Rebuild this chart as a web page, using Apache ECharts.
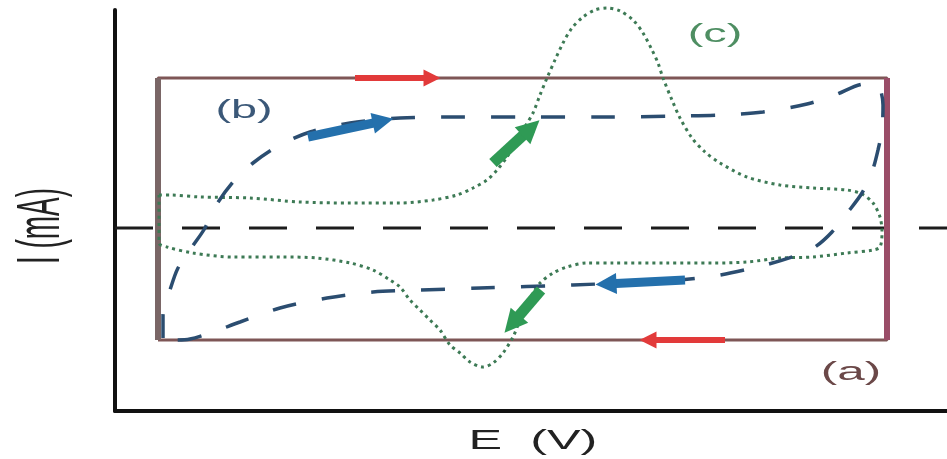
<!DOCTYPE html>
<html>
<head>
<meta charset="utf-8">
<script src="https://cdn.jsdelivr.net/npm/echarts@6/dist/echarts.min.js"></script>
<style>
html, body { margin: 0; padding: 0; background: #ffffff; }
#chart { width: 947px; height: 459px; }
</style>
</head>
<body>
<div id="chart"></div>
<script>
// Potential E (V) and current I (mA) of the three schematic voltammograms.

// (a) ideal capacitor: rectangular response
const rectE = [0.1075, 1.93];
const rectI = [-1.12, 1.50];

// (b) pseudo-capacitive / real capacitor loop
const capE = [0.12, 0.12, 0.1375, 0.1575, 0.1925, 0.225, 0.25, 0.295, 0.345, 0.4125, 0.4875, 0.5875, 0.7125, 0.8375, 1.0125, 1.2125, 1.4125, 1.5125, 1.62, 1.73, 1.80, 1.875, 1.9075, 1.92, 1.9175, 1.9075, 1.8925, 1.8675, 1.8325, 1.7925, 1.75, 1.70, 1.625, 1.5125, 1.4125, 1.2625, 1.145, 0.9125, 0.7625, 0.645, 0.53, 0.4125, 0.3125, 0.2375, 0.1875, 0.15, 0.12];
const capI = [-1.10, -0.87, -0.62, -0.40, -0.19, 0, 0.21, 0.46, 0.65, 0.83, 0.96, 1.05, 1.10, 1.11, 1.11, 1.11, 1.12, 1.13, 1.16, 1.24, 1.33, 1.44, 1.42, 1.23, 0.98, 0.78, 0.56, 0.35, 0.16, -0.04, -0.19, -0.28, -0.37, -0.47, -0.52, -0.55, -0.57, -0.60, -0.62, -0.64, -0.70, -0.80, -0.94, -1.05, -1.11, -1.12, -1.10];

// (c) faradaic (battery-type) loop with redox peaks
const farE = [0.11, 0.1375, 0.2125, 0.3375, 0.4625, 0.5875, 0.7125, 0.795, 0.855, 0.895, 0.93, 0.955, 0.98, 1.005, 1.0275, 1.045, 1.0625, 1.08, 1.10, 1.12, 1.1425, 1.17, 1.20, 1.23, 1.2625, 1.295, 1.32, 1.3425, 1.3575, 1.37, 1.3925, 1.4125, 1.4425, 1.475, 1.5125, 1.58, 1.6625, 1.745, 1.83, 1.8675, 1.895, 1.9125, 1.9175, 1.9125, 1.895, 1.83, 1.745, 1.6625, 1.58, 1.495, 1.38, 1.245, 1.18, 1.13, 1.095, 1.0625, 1.045, 1.03, 1.0125, 0.995, 0.97, 0.945, 0.92, 0.8875, 0.8625, 0.8375, 0.8125, 0.7875, 0.7625, 0.7375, 0.7125, 0.6875, 0.645, 0.5875, 0.505, 0.42, 0.295, 0.195, 0.13, 0.11, 0.11];
const farI = [0.33, 0.33, 0.31, 0.30, 0.26, 0.25, 0.25, 0.28, 0.33, 0.40, 0.48, 0.58, 0.71, 0.88, 1.03, 1.15, 1.33, 1.50, 1.68, 1.85, 2.00, 2.11, 2.18, 2.20, 2.17, 2.08, 1.95, 1.78, 1.65, 1.50, 1.28, 1.10, 0.90, 0.76, 0.65, 0.51, 0.43, 0.40, 0.38, 0.34, 0.25, 0.11, -0.04, -0.19, -0.22, -0.25, -0.29, -0.30, -0.34, -0.35, -0.35, -0.35, -0.35, -0.39, -0.45, -0.55, -0.65, -0.77, -0.92, -1.09, -1.25, -1.35, -1.39, -1.34, -1.25, -1.17, -1.02, -0.92, -0.82, -0.72, -0.59, -0.52, -0.42, -0.35, -0.30, -0.29, -0.29, -0.25, -0.19, -0.15, 0.33];

// zero-current reference
const zeroE = [0, 2.08];

// scan-direction arrows: [E, I] of tail and head
const rectArrowFrom = [[0.60, 1.50], [1.525, -1.12]];
const rectArrowTo = [[0.7925, 1.50], [1.3325, -1.12]];
const capArrowFrom = [[0.4825, 0.91], [1.425, -0.52]];
const capArrowTo = [[0.67, 1.07], [1.2275, -0.56]];
const farArrowFrom = [[0.945, 0.65], [1.065, -0.62]];
const farArrowTo = [[1.04, 1.00], [0.9925, -0.96]];

// axis extents
const eRange = [0, 2.08];
const iRange = [-1.83, 2.18];

const zip = (xs, ys) => xs.map((x, k) => [x, ys[k]]);

const rectPath = [
  [rectE[0], rectI[0]], [rectE[0], rectI[1]], [rectE[1], rectI[1]],
  [rectE[1], rectI[0]], [rectE[0], rectI[0]]
];

function arrowSeries(from, to, color, width, head) {
  return {
    type: 'line', data: [], silent: true, animation: false,
    markLine: {
      silent: true, animation: false,
      symbol: ['none', 'triangle'], symbolSize: head,
      label: { show: false },
      emphasis: { disabled: true },
      lineStyle: { color: color, width: width, type: 'solid', opacity: 1 },
      data: from.map((p, k) => [{ coord: p }, { coord: to[k] }])
    }
  };
}

const chart = echarts.init(document.getElementById('chart'), null, { renderer: 'canvas' });

chart.setOption({
  animation: false,
  backgroundColor: '#ffffff',
  grid: { left: 115, right: 0, top: 10, bottom: 48 },
  xAxis: {
    type: 'value', min: eRange[0], max: eRange[1],
    axisLine: { show: true, onZero: false, lineStyle: { color: '#111', width: 4 } },
    axisTick: { show: false }, axisLabel: { show: false }, splitLine: { show: false }
  },
  yAxis: {
    type: 'value', min: iRange[0], max: iRange[1],
    axisLine: { show: true, onZero: false, lineStyle: { color: '#111', width: 4 } },
    axisTick: { show: false }, axisLabel: { show: false }, splitLine: { show: false }
  },
  series: [
    {
      name: 'zero', type: 'line', data: zeroE.map(e => [e, 0]),
      symbol: 'none', silent: true,
      lineStyle: { color: '#1c1c1c', width: 3, type: [38, 29] }
    },
    {
      name: '(a)', type: 'line', data: rectPath, symbol: 'none', silent: true,
      lineStyle: { color: '#7e5656', width: 3 }
    },
    {
      name: '(a) left', type: 'line', data: [[rectE[0], rectI[0]], [rectE[0], rectI[1]]],
      symbol: 'none', silent: true,
      lineStyle: { color: '#7a6666', width: 6 }
    },
    {
      name: '(a) right', type: 'line', data: [[rectE[1], rectI[0]], [rectE[1], rectI[1]]],
      symbol: 'none', silent: true,
      lineStyle: { color: '#9a4d68', width: 6 }
    },
    {
      name: '(c)', type: 'line', data: zip(farE, farI), symbol: 'none', silent: true,
      smooth: 0.3, clip: false,
      lineStyle: { color: '#3d7a55', width: 3, type: [3, 4] }
    },
    {
      name: '(b)', type: 'line', data: zip(capE, capI), symbol: 'none', silent: true,
      smooth: 0.3, clip: false,
      lineStyle: { color: '#2b4d70', width: 3.5, type: [24, 26] }
    },
    arrowSeries(rectArrowFrom, rectArrowTo, '#e23a3a', 6, 17),
    arrowSeries(capArrowFrom, capArrowTo, '#2470ac', 9, 21),
    arrowSeries(farArrowFrom, farArrowTo, '#2f9a55', 11, 23)
  ],
  graphic: [
    {
      type: 'text', x: 533, y: 441, scaleX: 1.8, silent: true,
      style: { text: 'E  (V)', x: 0, y: 0, textAlign: 'center', textVerticalAlign: 'middle',
               align: 'center', verticalAlign: 'middle',
               font: '28px "Liberation Sans", Arial, sans-serif', fill: '#222' }
    },
    {
      type: 'text', x: 42, y: 226, rotation: Math.PI / 2, scaleY: 2.2, silent: true,
      style: { text: 'I (mA)', x: 0, y: 0, textAlign: 'center', textVerticalAlign: 'middle',
               align: 'center', verticalAlign: 'middle',
               font: '28px "Liberation Sans", Arial, sans-serif', fill: '#222' }
    },
    {
      type: 'text', x: 244, y: 111, scaleX: 1.8, silent: true,
      style: { text: '(b)', x: 0, y: 0, textAlign: 'center', textVerticalAlign: 'middle',
               align: 'center', verticalAlign: 'middle',
               font: '26px "Liberation Sans", Arial, sans-serif', fill: '#3b5878' }
    },
    {
      type: 'text', x: 715, y: 35, scaleX: 1.8, silent: true,
      style: { text: '(c)', x: 0, y: 0, textAlign: 'center', textVerticalAlign: 'middle',
               align: 'center', verticalAlign: 'middle',
               font: '26px "Liberation Sans", Arial, sans-serif', fill: '#4e8e62' }
    },
    {
      type: 'text', x: 851, y: 373, scaleX: 1.9, silent: true,
      style: { text: '(a)', x: 0, y: 0, textAlign: 'center', textVerticalAlign: 'middle',
               align: 'center', verticalAlign: 'middle',
               font: '26px "Liberation Sans", Arial, sans-serif', fill: '#6b4848' }
    }
  ]
});
</script>
</body>
</html>
